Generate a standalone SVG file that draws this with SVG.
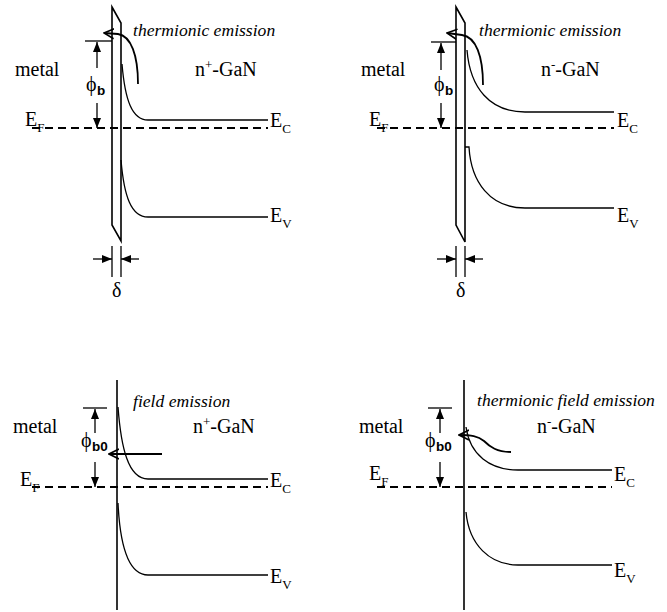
<svg xmlns="http://www.w3.org/2000/svg" width="667" height="612" viewBox="0 0 667 612">
<defs>
<style>
.ln{fill:none;stroke:#000;stroke-width:1.3}
.if{fill:#fff;stroke:#000;stroke-width:1.6}
.dash{fill:none;stroke:#000;stroke-width:2;stroke-dasharray:8 5}
.t{font-family:"Liberation Serif","Times New Roman",serif;font-size:20px;fill:#000}
.it{font-family:"Liberation Serif","Times New Roman",serif;font-size:17.6px;font-style:italic;fill:#000}
.sub{font-size:13px}
.ss{font-family:"Liberation Sans",Arial,sans-serif;font-size:13.5px;font-weight:bold;fill:#000}
.fa{fill:none;stroke:#000;stroke-width:1.3;marker-end:url(#fa)}
.oa{fill:none;stroke:#000;stroke-width:1.8;marker-end:url(#oa)}
</style>
<marker id="fa" viewBox="0 0 10 8" refX="10" refY="4" markerWidth="10" markerHeight="8" markerUnits="userSpaceOnUse" orient="auto"><path d="M0,0 L10,4 L0,8 z" fill="#000"/></marker>
<marker id="oa" viewBox="0 0 11 12" refX="10" refY="6" markerWidth="11" markerHeight="12" markerUnits="userSpaceOnUse" orient="auto"><path d="M0,1 L10,6 L0,11" fill="none" stroke="#000" stroke-width="1.6"/></marker>
</defs>
<rect width="667" height="612" fill="#fff"/>

<!-- Panel 1 -->
<g id="panel1">
<polygon class="if" points="112,7 121,23 121,241 112,225"/>
<line class="dash" x1="32" y1="128" x2="268" y2="128"/>
<path class="ln" d="M122,64 C125,100 132,120 148,120 L268,120"/>
<path class="ln" d="M121,160 C124,196 131,217 148,217 L268,217"/>
<line class="ln" x1="85" y1="41" x2="112" y2="41"/>
<line class="fa" x1="97" y1="68" x2="97" y2="42"/>
<line class="fa" x1="97" y1="103" x2="97" y2="128"/>
<text class="t" x="86" y="91">ϕ</text><text class="ss" x="97" y="95">b</text>
<text class="t" x="15" y="76">metal</text>
<text class="t" x="195" y="76">n<tspan class="sub" dy="-7">+</tspan><tspan dy="7">-GaN</tspan></text>
<text class="it" x="133" y="36">thermionic emission</text>
<text class="t" x="270" y="127">E<tspan class="sub" dy="6">C</tspan></text>
<text class="t" x="270" y="222">E<tspan class="sub" dy="6">V</tspan></text>
<text class="t" x="25" y="126">E<tspan class="sub" dy="6">F</tspan></text>
<line class="ln" x1="112" y1="246" x2="112" y2="277"/>
<line class="ln" x1="121" y1="246" x2="121" y2="277"/>
<line class="fa" x1="93" y1="259" x2="112" y2="259"/>
<line class="fa" x1="139" y1="259" x2="121" y2="259"/>
<text class="t" x="112" y="297">δ</text>
</g>

<!-- Panel 2 -->
<g id="panel2">
<polygon class="if" points="456,7 465,23 465,242 456,225"/>
<line class="dash" x1="377" y1="128" x2="614" y2="128"/>
<path class="ln" d="M467,50 C470,88 490,112 525,112 L614,112"/>
<path class="ln" d="M465,147 L469,147 C471,182 490,208 525,208 L614,208"/>
<line class="ln" x1="431" y1="42" x2="456" y2="42"/>
<line class="fa" x1="441" y1="70" x2="441" y2="43"/>
<line class="fa" x1="441" y1="103" x2="441" y2="128"/>
<text class="t" x="434" y="91">ϕ</text><text class="ss" x="445" y="95">b</text>
<text class="t" x="361" y="76">metal</text>
<text class="t" x="541" y="76">n<tspan class="sub" dy="-7">-</tspan><tspan dy="7">-GaN</tspan></text>
<text class="it" x="479" y="36">thermionic emission</text>
<text class="t" x="617" y="127">E<tspan class="sub" dy="6">C</tspan></text>
<text class="t" x="617" y="222">E<tspan class="sub" dy="6">V</tspan></text>
<text class="t" x="369" y="126">E<tspan class="sub" dy="6">F</tspan></text>
<line class="ln" x1="456" y1="246" x2="456" y2="277"/>
<line class="ln" x1="465" y1="246" x2="465" y2="277"/>
<line class="fa" x1="437" y1="259" x2="456" y2="259"/>
<line class="fa" x1="483" y1="259" x2="465" y2="259"/>
<text class="t" x="456" y="297">δ</text>
</g>

<!-- Panel 3 -->
<g id="panel3">
<line class="if" x1="117" y1="380" x2="117" y2="610"/>
<line class="dash" x1="32" y1="487" x2="268" y2="487"/>
<path class="ln" d="M118,407 C121,447 128,479 148,479 L268,479"/>
<path class="ln" d="M118,503 C120,545 128,575 148,575 L268,575"/>
<line class="ln" x1="83" y1="408" x2="107" y2="408"/>
<line class="fa" x1="95" y1="433" x2="95" y2="409"/>
<line class="fa" x1="95" y1="462" x2="95" y2="487"/>
<text class="t" x="81" y="447">ϕ</text><text class="ss" x="92" y="451">b0</text>
<text class="t" x="13" y="433">metal</text>
<text class="t" x="193" y="433">n<tspan class="sub" dy="-7">+</tspan><tspan dy="7">-GaN</tspan></text>
<text class="it" x="133" y="407">field emission</text>
<text class="t" x="270" y="487">E<tspan class="sub" dy="6">C</tspan></text>
<text class="t" x="270" y="583">E<tspan class="sub" dy="6">V</tspan></text>
<text class="t" x="20" y="486">E<tspan class="sub" dy="6">F</tspan></text>
</g>

<!-- Panel 4 -->
<g id="panel4">
<line class="if" x1="464" y1="380" x2="464" y2="610"/>
<line class="dash" x1="377" y1="487" x2="612" y2="487"/>
<path class="ln" d="M466,427 C470,455 490,470 518,470 L612,470"/>
<path class="ln" d="M466,512 C469,545 490,565 518,565 L612,565"/>
<line class="ln" x1="428" y1="408" x2="452" y2="408"/>
<line class="fa" x1="440" y1="433" x2="440" y2="409"/>
<line class="fa" x1="440" y1="462" x2="440" y2="487"/>
<text class="t" x="425" y="447">ϕ</text><text class="ss" x="436" y="451">b0</text>
<text class="t" x="359" y="433">metal</text>
<text class="t" x="537" y="433">n<tspan class="sub" dy="-7">-</tspan><tspan dy="7">-GaN</tspan></text>
<text class="it" x="477" y="406">thermionic field emission</text>
<text class="t" x="614" y="481">E<tspan class="sub" dy="6">C</tspan></text>
<text class="t" x="614" y="577">E<tspan class="sub" dy="6">V</tspan></text>
<text class="t" x="369" y="480">E<tspan class="sub" dy="6">F</tspan></text>
</g>

<g id="connectors">
<path class="oa" d="M138,84 C138,55 131,36 118,34 L104,33"/>
<path class="oa" d="M483,85 C483,56 476,37 462,35 L447,33"/>
<line class="oa" x1="162" y1="454" x2="109" y2="454"/>
<path class="oa" d="M511,452 C497,452 490,447 484,441 C478,436 471,435 459,435"/>
</g>
</svg>
